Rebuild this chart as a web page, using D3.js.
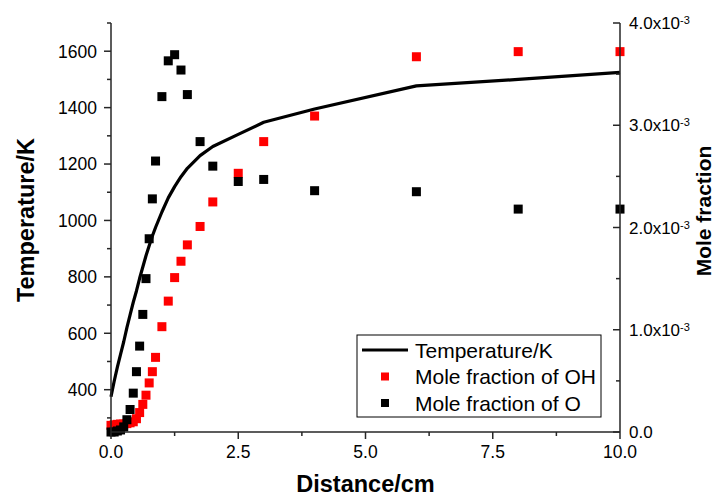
<!DOCTYPE html>
<html>
<head>
<meta charset="utf-8">
<script src="https://cdn.jsdelivr.net/npm/d3@7"></script>
<style>
  html, body { margin: 0; padding: 0; background: #fff; }
  svg { display: block; font-family: "Liberation Sans", Arial, sans-serif; }
</style>
</head>
<body>
<svg id="chart" width="717" height="497"></svg>
<script>
// --- data -----------------------------------------------------------
var distance = [0, 0.0625, 0.125, 0.1875, 0.25, 0.3125, 0.375, 0.4375, 0.5, 0.5625,
  0.625, 0.6875, 0.75, 0.8125, 0.875, 1.0, 1.125, 1.25, 1.375, 1.5,
  1.75, 2.0, 2.5, 3, 4, 6, 8, 10];
var temperature = [375, 430, 480, 525, 570, 620, 665, 710, 750, 795,
  835, 875, 910, 945, 975, 1030, 1080, 1120, 1155, 1185,
  1230, 1262, 1305, 1348, 1395, 1477, 1500, 1525];
// mole fractions, in units of 1e-3
var moleOH = [0.065, 0.07, 0.075, 0.078, 0.078, 0.082, 0.09, 0.10, 0.13, 0.19,
  0.27, 0.36, 0.48, 0.59, 0.73, 1.03, 1.28, 1.51, 1.67, 1.83,
  2.01, 2.25, 2.53, 2.84, 3.09, 3.67, 3.72, 3.72];
var moleO = [0, 0, 0.01, 0.02, 0.05, 0.12, 0.22, 0.38, 0.59, 0.84,
  1.15, 1.50, 1.89, 2.28, 2.65, 3.28, 3.63, 3.69, 3.54, 3.30,
  2.84, 2.60, 2.45, 2.47, 2.36, 2.35, 2.18, 2.18];

var xTicks = [0, 2.5, 5, 7.5, 10];
var xMinor = [1.25, 3.75, 6.25, 8.75];
var tTicks = [400, 600, 800, 1000, 1200, 1400, 1600];
var tMinor = [300, 500, 700, 900, 1100, 1300, 1500, 1700];
var mTicks = [0, 1, 2, 3, 4];
var mMinor = [0.5, 1.5, 2.5, 3.5];

var legendItems = ["Temperature/K", "Mole fraction of OH", "Mole fraction of O"];

// --- layout -----------------------------------------------------------
var L = 111, R = 620, T = 23, B = 432;
var AX = "#262626";
var svg = d3.select("#chart");

var x = d3.scaleLinear().domain([0, 10]).range([L, R]);
var yT = d3.scaleLinear().domain([250, 1700]).range([B, T]);
var yM = d3.scaleLinear().domain([0, 4]).range([B, T]);

// --- temperature line -------------------------------------------------
var line = d3.line()
  .x(function (d, i) { return x(distance[i]); })
  .y(function (d) { return yT(d); });
svg.append("path").datum(temperature)
  .attr("d", line).attr("fill", "none")
  .attr("stroke", "#000").attr("stroke-width", 3.2)
  .attr("stroke-linejoin", "round");

// --- markers (OH red, O black on top) ---------------------------------
var MS = 9;
function squares(vals, color) {
  svg.append("g").selectAll("rect").data(vals).enter().append("rect")
    .attr("x", function (d, i) { return x(distance[i]) - MS / 2; })
    .attr("y", function (d) { return yM(d) - MS / 2; })
    .attr("width", MS).attr("height", MS)
    .attr("fill", color);
}
squares(moleOH, "#ff0000");
squares(moleO, "#000000");

// --- axes -------------------------------------------------------------
var ax = svg.append("g").attr("stroke", AX).attr("stroke-width", 1.5);
ax.append("line").attr("x1", L).attr("x2", L).attr("y1", T).attr("y2", B);
ax.append("line").attr("x1", R).attr("x2", R).attr("y1", T).attr("y2", B);
ax.append("line").attr("x1", L).attr("x2", R).attr("y1", B).attr("y2", B);

// bottom ticks point down
xTicks.forEach(function (v) {
  ax.append("line").attr("x1", x(v)).attr("x2", x(v)).attr("y1", B).attr("y2", B + 7);
});
xMinor.forEach(function (v) {
  ax.append("line").attr("x1", x(v)).attr("x2", x(v)).attr("y1", B).attr("y2", B + 4);
});
// left ticks point out
tTicks.forEach(function (v) {
  ax.append("line").attr("x1", L - 7).attr("x2", L).attr("y1", yT(v)).attr("y2", yT(v));
});
tMinor.forEach(function (v) {
  ax.append("line").attr("x1", L - 4).attr("x2", L).attr("y1", yT(v)).attr("y2", yT(v));
});
// right ticks point in
mTicks.forEach(function (v) {
  ax.append("line").attr("x1", R - 7).attr("x2", R).attr("y1", yM(v)).attr("y2", yM(v));
});
mMinor.forEach(function (v) {
  ax.append("line").attr("x1", R - 4).attr("x2", R).attr("y1", yM(v)).attr("y2", yM(v));
});

// tick labels
var FS = 17.5;
svg.append("g").selectAll("text").data(xTicks).enter().append("text")
  .attr("x", function (d) { return x(d); }).attr("y", B + 26)
  .attr("text-anchor", "middle").style("font-size", FS + "px")
  .text(function (d) { return d.toFixed(1); });
svg.append("g").selectAll("text").data(tTicks).enter().append("text")
  .attr("x", L - 14).attr("y", function (d) { return yT(d); })
  .attr("dy", "0.36em").attr("text-anchor", "end").style("font-size", FS + "px")
  .text(function (d) { return d; });
var rl = svg.append("g").selectAll("text").data(mTicks).enter().append("text")
  .attr("x", R + 9).attr("y", function (d) { return yM(d); })
  .attr("dy", "0.36em").style("font-size", "17px");
rl.append("tspan").text(function (d) { return d === 0 ? "0.0" : d.toFixed(1) + "x10"; });
rl.filter(function (d) { return d !== 0; }).append("tspan")
  .attr("dy", "-0.45em").style("font-size", "11px").text("-3");

// axis titles
var TF = "23.5px";
svg.append("text")
  .attr("transform", "translate(34," + 220 + ") rotate(-90)")
  .attr("text-anchor", "middle").style("font-size", TF).style("font-weight", "bold")
  .text("Temperature/K");
svg.append("text")
  .attr("x", (L + R) / 2).attr("y", 492)
  .attr("text-anchor", "middle").style("font-size", TF).style("font-weight", "bold")
  .text("Distance/cm");
svg.append("text")
  .attr("transform", "translate(711," + 211 + ") rotate(-90)")
  .attr("text-anchor", "middle").style("font-size", "21px").style("font-weight", "bold")
  .text("Mole fraction");

// --- legend -----------------------------------------------------------
var lg = svg.append("g");
lg.append("rect").attr("x", 357).attr("y", 335).attr("width", 244).attr("height", 82)
  .attr("fill", "#fff").attr("stroke", "#000").attr("stroke-width", 1);
var rowY = d3.scalePoint().domain(legendItems).range([350, 403]);
lg.append("line").attr("x1", 362).attr("x2", 408)
  .attr("y1", rowY(legendItems[0])).attr("y2", rowY(legendItems[0]))
  .attr("stroke", "#000").attr("stroke-width", 3.2);
[["#ff0000", legendItems[1]], ["#000000", legendItems[2]]].forEach(function (p) {
  lg.append("rect").attr("x", 381).attr("y", rowY(p[1]) - 4)
    .attr("width", 8).attr("height", 8).attr("fill", p[0]);
});
lg.selectAll("text.lt").data(legendItems).enter().append("text")
  .attr("class", "lt").attr("x", 415).attr("y", function (d) { return rowY(d); })
  .attr("dy", "0.36em").style("font-size", "21px")
  .text(function (d) { return d; });
</script>
</body>
</html>
